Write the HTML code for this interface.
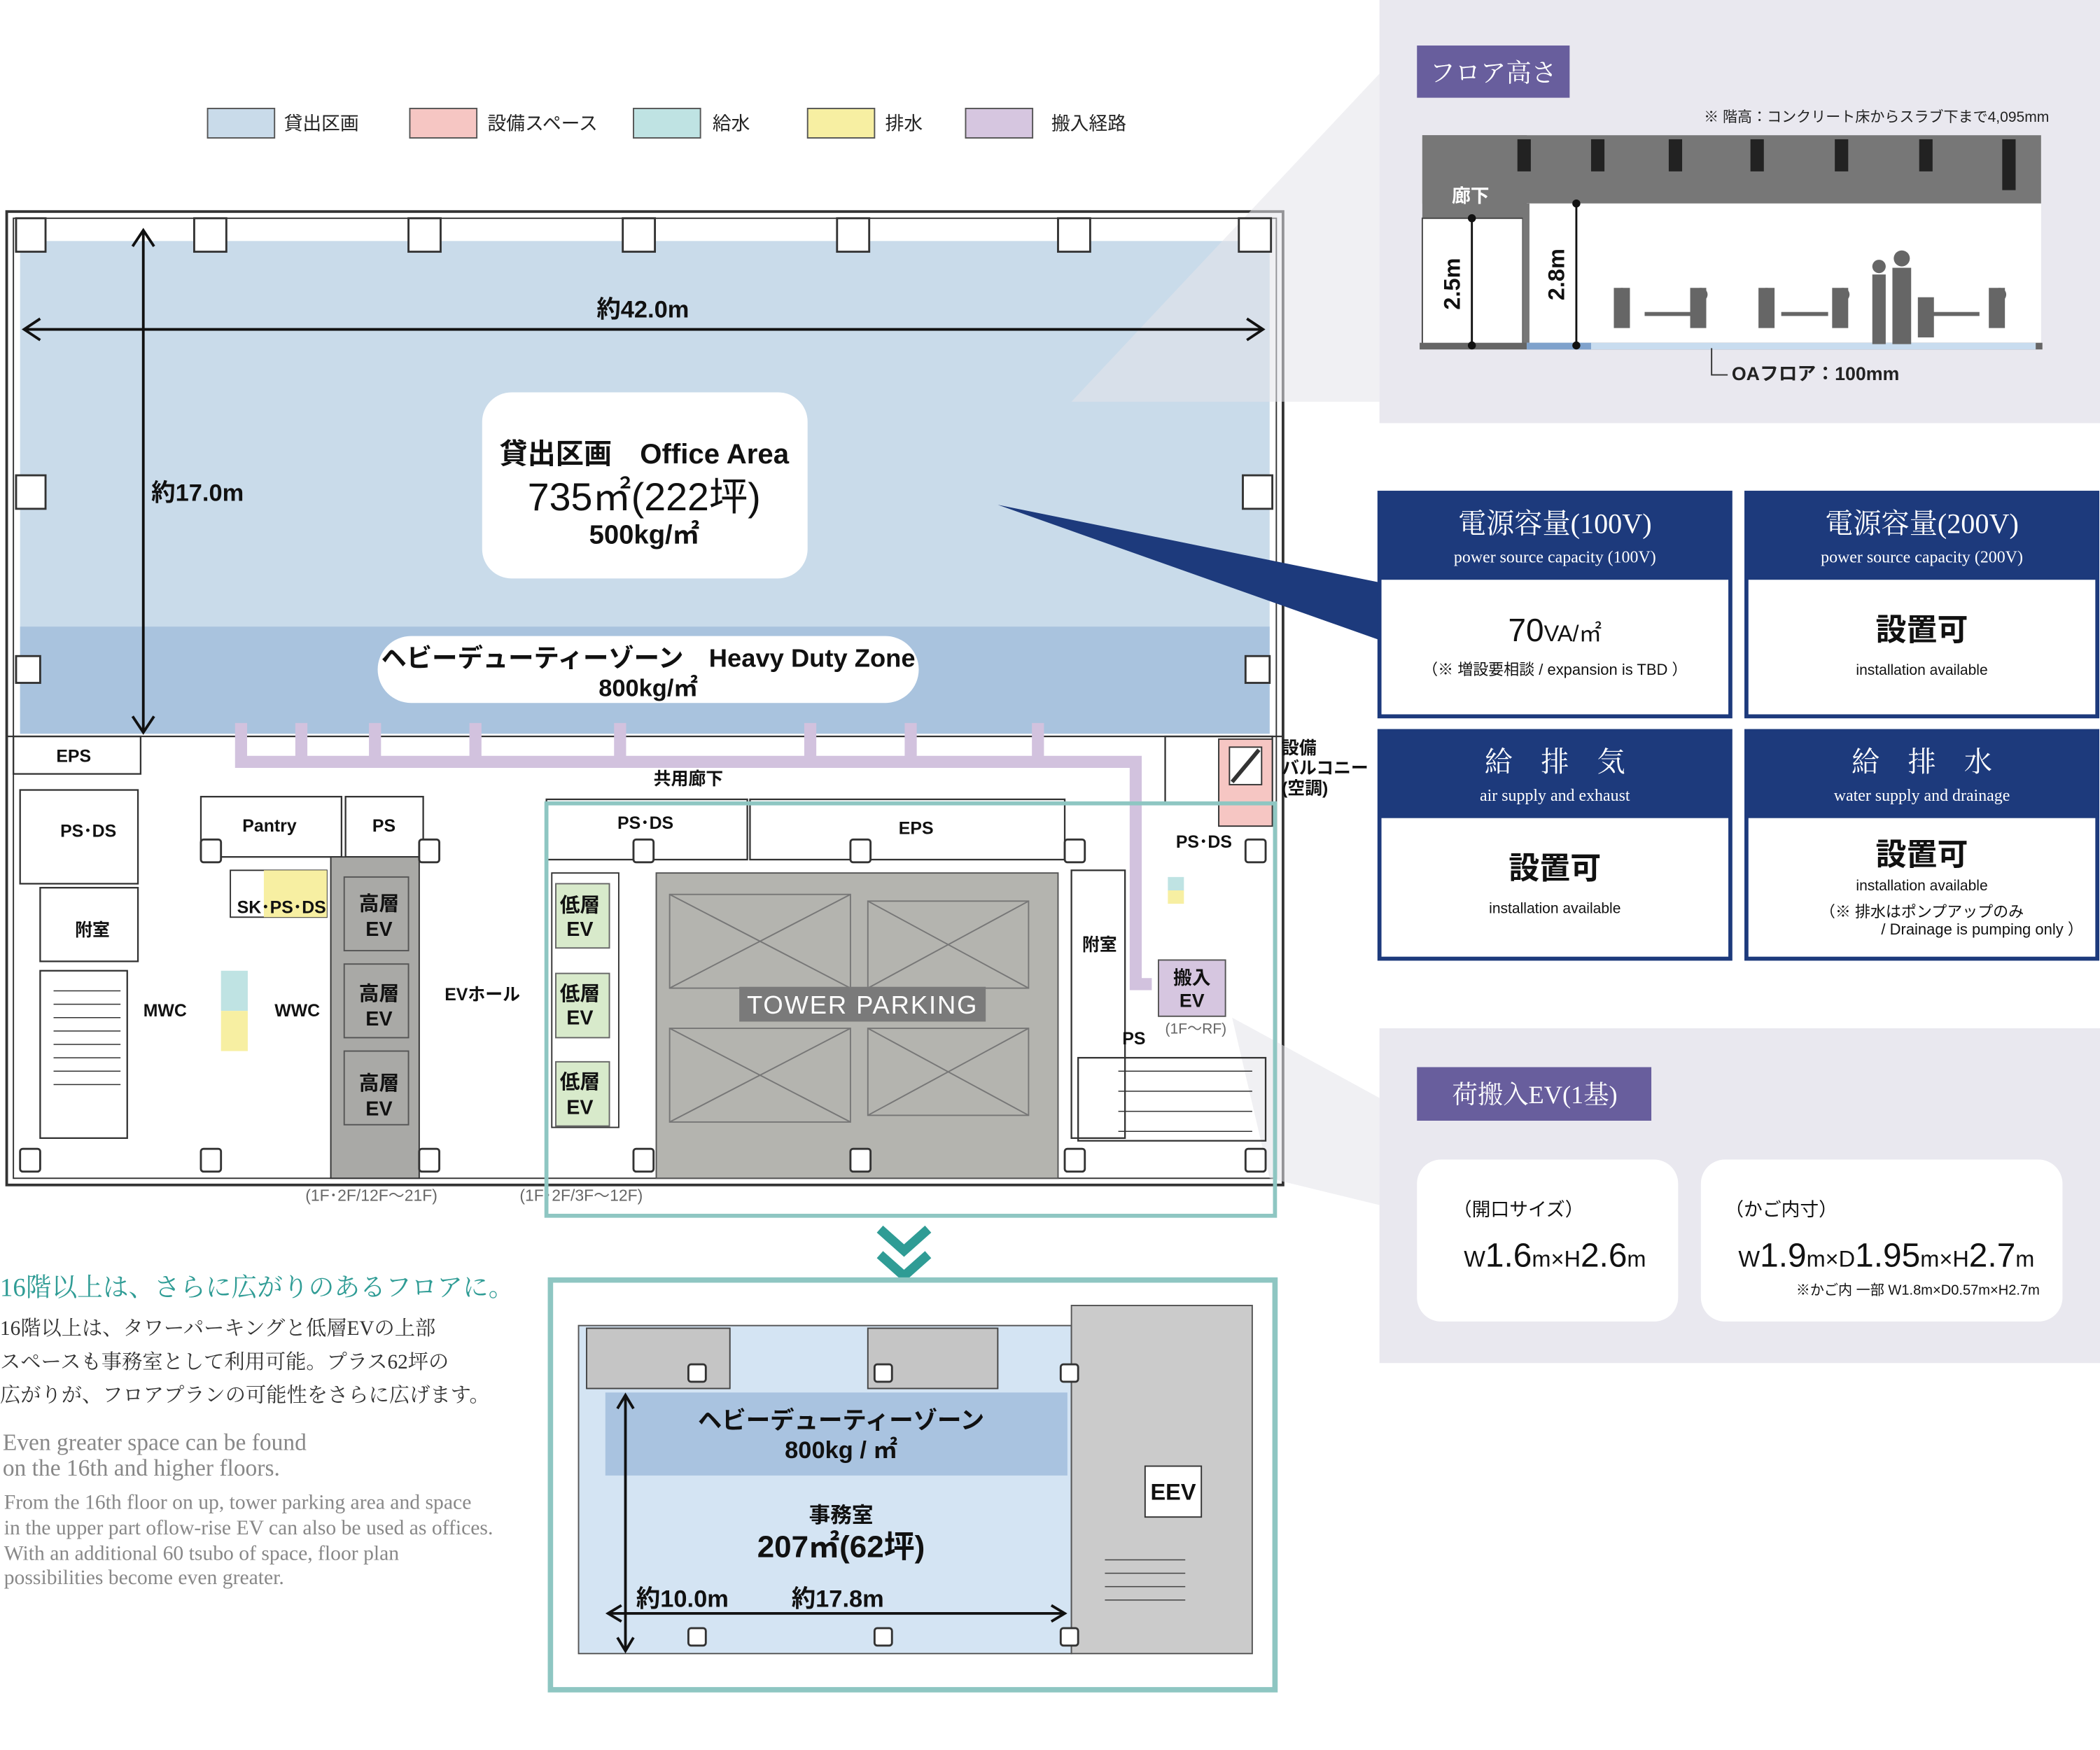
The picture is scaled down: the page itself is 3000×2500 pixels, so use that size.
<!DOCTYPE html>
<html><head><meta charset="utf-8"><style>
html,body{margin:0;padding:0;background:#fff;}
svg{display:block;}
text{font-family:"Liberation Sans","Noto Sans CJK JP",sans-serif;}
.s{font-family:"Liberation Serif","Noto Serif CJK SC",serif;}
</style></head><body>
<svg width="3000" height="2500" viewBox="0 0 1568 1307" preserveAspectRatio="none" xmlns="http://www.w3.org/2000/svg">
<rect width="1568" height="1307" fill="#fff"/>
<rect x="1030" y="0" width="538" height="316" fill="#e9e8ef"/>
<rect x="1030" y="768" width="538" height="250" fill="#e9e8ef"/>
<g font-size="14" fill="#222">
<rect x="155" y="81" width="50" height="22" fill="#c9dbea" stroke="#555"/><text x="212" y="97">貸出区画</text>
<rect x="306" y="81" width="50" height="22" fill="#f6c6c3" stroke="#555"/><text x="364" y="97">設備スペース</text>
<rect x="473" y="81" width="50" height="22" fill="#bfe3e3" stroke="#555"/><text x="532" y="97">給水</text>
<rect x="603" y="81" width="50" height="22" fill="#f7efa2" stroke="#555"/><text x="661" y="97">排水</text>
<rect x="721" y="81" width="50" height="22" fill="#d6c6e0" stroke="#555"/><text x="785" y="97">搬入経路</text>
</g>
<rect x="5" y="158" width="953" height="727" fill="#fff" stroke="#333" stroke-width="2"/>
<rect x="10" y="163" width="943" height="717" fill="none" stroke="#333" stroke-width="1"/>
<rect x="15" y="180" width="933" height="368" fill="#c9dbea"/>
<rect x="15" y="468" width="933" height="80" fill="#a9c3de"/>
<polygon points="1030,55 1030,300 800,300" fill="#e4e3ea" opacity="0.55"/>
<polygon points="1030,820 1030,900 948,880 920,760" fill="#e4e3ea" opacity="0.55"/>
<g fill="#fff" stroke="#333" stroke-width="1.5">
<rect x="12" y="163" width="22" height="25"/><rect x="145" y="163" width="24" height="25"/><rect x="305" y="163" width="24" height="25"/><rect x="465" y="163" width="24" height="25"/><rect x="625" y="163" width="24" height="25"/><rect x="790" y="163" width="24" height="25"/><rect x="925" y="163" width="24" height="25"/>
<rect x="12" y="355" width="22" height="25"/><rect x="928" y="355" width="22" height="25"/>
<rect x="12" y="490" width="18" height="20"/><rect x="930" y="490" width="18" height="20"/>
</g>
<g stroke="#111" stroke-width="2" fill="none">
<line x1="18" y1="246" x2="943" y2="246"/><polyline points="30,238 18,246 30,254"/><polyline points="931,238 943,246 931,254"/>
<line x1="107" y1="172" x2="107" y2="547"/><polyline points="99,184 107,172 115,184"/><polyline points="99,535 107,547 115,535"/>
</g>
<text x="480" y="237" font-size="18" font-weight="bold" text-anchor="middle" fill="#111">約42.0m</text>
<text x="113" y="374" font-size="18" font-weight="bold" fill="#111">約17.0m</text>
<rect x="360" y="293" width="243" height="139" rx="22" fill="#fff"/>
<text x="481" y="346" font-size="21" font-weight="bold" text-anchor="middle" fill="#111">貸出区画　Office Area</text>
<text x="481" y="381" font-size="29" text-anchor="middle" fill="#111">735㎡(222坪)</text>
<text x="481" y="406" font-size="20" font-weight="bold" text-anchor="middle" fill="#111">500kg/㎡</text>
<rect x="282" y="475" width="404" height="50" rx="25" fill="#fff"/>
<text x="484" y="498" font-size="19" font-weight="bold" text-anchor="middle" fill="#111">ヘビーデューティーゾーン　Heavy Duty Zone</text>
<text x="484" y="520" font-size="18" font-weight="bold" text-anchor="middle" fill="#111">800kg/㎡</text>
<polygon points="745,377 1030,435 1030,478" fill="#1d3a7c"/>
<g fill="none" stroke="#333" stroke-width="1.2">
<line x1="5" y1="550" x2="958" y2="550"/>
<rect x="10" y="550" width="95" height="28"/>
<rect x="15" y="590" width="88" height="70"/>
<rect x="30" y="663" width="73" height="55"/>
<rect x="30" y="725" width="65" height="125"/>
<rect x="150" y="595" width="105" height="45"/>
<rect x="258" y="595" width="58" height="45"/>
<rect x="408" y="597" width="150" height="45"/>
<rect x="560" y="597" width="235" height="45"/>
<rect x="870" y="550" width="80" height="50"/>
<rect x="800" y="650" width="40" height="200"/>
<rect x="805" y="790" width="140" height="62"/>
</g>
<g stroke="#333" stroke-width="0.8">
<line x1="40" y1="740" x2="90" y2="740"/><line x1="40" y1="750" x2="90" y2="750"/><line x1="40" y1="760" x2="90" y2="760"/><line x1="40" y1="770" x2="90" y2="770"/><line x1="40" y1="780" x2="90" y2="780"/><line x1="40" y1="790" x2="90" y2="790"/><line x1="40" y1="800" x2="90" y2="800"/><line x1="40" y1="810" x2="90" y2="810"/>
<line x1="835" y1="800" x2="935" y2="800"/><line x1="835" y1="815" x2="935" y2="815"/><line x1="835" y1="830" x2="935" y2="830"/><line x1="835" y1="845" x2="935" y2="845"/>
</g>
<g fill="none" stroke="#d2c2de" stroke-width="9">
<polyline points="180,540 180,569 848,569 848,735 860,735"/>
<line x1="225" y1="540" x2="225" y2="569"/><line x1="280" y1="540" x2="280" y2="569"/><line x1="355" y1="540" x2="355" y2="569"/><line x1="463" y1="540" x2="463" y2="569"/><line x1="605" y1="540" x2="605" y2="569"/><line x1="680" y1="540" x2="680" y2="569"/><line x1="775" y1="540" x2="775" y2="569"/>
</g>
<rect x="910" y="552" width="40" height="65" fill="#f6c6c3" stroke="#333"/>
<rect x="918" y="558" width="24" height="28" fill="#fff" stroke="#333"/>
<line x1="920" y1="584" x2="940" y2="560" stroke="#333" stroke-width="3"/>
<rect x="172" y="650" width="72" height="35" fill="#fff" stroke="#333"/>
<rect x="197" y="650" width="47" height="35" fill="#f7efa2"/>
<rect x="165" y="725" width="20" height="30" fill="#bfe3e3"/><rect x="165" y="755" width="20" height="30" fill="#f7efa2"/>
<rect x="872" y="655" width="12" height="10" fill="#bfe3e3"/><rect x="872" y="665" width="12" height="10" fill="#f7efa2"/>
<rect x="247" y="640" width="66" height="240" fill="#a9a9a6" stroke="#333"/>
<g fill="#a9a9a6" stroke="#555"><rect x="257" y="655" width="48" height="55"/><rect x="257" y="720" width="48" height="55"/><rect x="257" y="785" width="48" height="55"/></g>
<g font-size="15" font-weight="bold" text-anchor="middle" fill="#111">
<text x="283" y="680">高層</text><text x="283" y="699">EV</text>
<text x="283" y="747">高層</text><text x="283" y="766">EV</text>
<text x="283" y="814">高層</text><text x="283" y="833">EV</text>
</g>
<rect x="412" y="652" width="50" height="190" fill="#fff" stroke="#333"/>
<g fill="#d8eacb" stroke="#666"><rect x="415" y="660" width="40" height="48"/><rect x="415" y="727" width="40" height="48"/><rect x="415" y="793" width="40" height="48"/></g>
<g font-size="15" font-weight="bold" text-anchor="middle" fill="#111">
<text x="433" y="681">低層</text><text x="433" y="699">EV</text>
<text x="433" y="747">低層</text><text x="433" y="765">EV</text>
<text x="433" y="813">低層</text><text x="433" y="832">EV</text>
</g>
<rect x="490" y="652" width="300" height="228" fill="#b4b4af" stroke="#555"/>
<g fill="none" stroke="#777">
<rect x="500" y="668" width="135" height="70"/><rect x="648" y="673" width="120" height="65"/>
<rect x="500" y="768" width="135" height="70"/><rect x="648" y="768" width="120" height="65"/>
<line x1="500" y1="668" x2="635" y2="738"/><line x1="635" y1="668" x2="500" y2="738"/>
<line x1="648" y1="673" x2="768" y2="738"/><line x1="768" y1="673" x2="648" y2="738"/>
<line x1="500" y1="768" x2="635" y2="838"/><line x1="635" y1="768" x2="500" y2="838"/>
<line x1="648" y1="768" x2="768" y2="833"/><line x1="768" y1="768" x2="648" y2="833"/>
</g>
<rect x="552" y="737" width="184" height="26" fill="#7a7a7a"/>
<text x="644" y="757" font-size="19" fill="#fff" text-anchor="middle" letter-spacing="1">TOWER PARKING</text>
<rect x="865" y="717" width="50" height="42" fill="#d6c6e0" stroke="#555"/>
<text x="890" y="735" font-size="14" font-weight="bold" text-anchor="middle" fill="#111">搬入</text>
<text x="890" y="752" font-size="14" font-weight="bold" text-anchor="middle" fill="#111">EV</text>
<text x="870" y="772" font-size="11" fill="#666">(1F〜RF)</text>
<g fill="#fff" stroke="#333" stroke-width="1.5">
<rect x="150" y="627" width="15" height="17" rx="2"/><rect x="313" y="627" width="15" height="17" rx="2"/><rect x="473" y="627" width="15" height="17" rx="2"/><rect x="635" y="627" width="15" height="17" rx="2"/><rect x="795" y="627" width="15" height="17" rx="2"/><rect x="930" y="627" width="15" height="17" rx="2"/>
<rect x="15" y="858" width="15" height="17" rx="2"/><rect x="150" y="858" width="15" height="17" rx="2"/><rect x="313" y="858" width="15" height="17" rx="2"/><rect x="473" y="858" width="15" height="17" rx="2"/><rect x="635" y="858" width="15" height="17" rx="2"/><rect x="795" y="858" width="15" height="17" rx="2"/><rect x="930" y="858" width="15" height="17" rx="2"/>
</g>
<g font-size="13" font-weight="bold" fill="#111">
<text x="42" y="569">EPS</text><text x="45" y="625">PS･DS</text><text x="56" y="699">附室</text>
<text x="181" y="621">Pantry</text><text x="278" y="621">PS</text><text x="177" y="682">SK･PS･DS</text>
<text x="107" y="759">MWC</text><text x="205" y="759">WWC</text><text x="332" y="747">EVホール</text>
<text x="488" y="586">共用廊下</text><text x="461" y="619">PS･DS</text><text x="671" y="623">EPS</text>
<text x="878" y="633">PS･DS</text><text x="808" y="710">附室</text><text x="838" y="780">PS</text>
<text x="957" y="563">設備</text><text x="957" y="578">バルコニー</text><text x="957" y="593">(空調)</text>
</g>
<text x="228" y="897" font-size="12" fill="#666">(1F･2F/12F〜21F)</text>
<text x="388" y="897" font-size="12" fill="#666">(1F･2F/3F〜12F)</text>
<rect x="408" y="600" width="544" height="308" fill="none" stroke="#8ec6c2" stroke-width="3"/>
<g fill="none" stroke="#2f9c95" stroke-width="7"><polyline points="657,918 675,934 693,918"/><polyline points="657,937 675,953 693,937"/></g>
<rect x="411" y="956" width="541" height="306" fill="none" stroke="#8ec6c2" stroke-width="4"/>
<rect x="432" y="990" width="368" height="245" fill="#d4e4f3" stroke="#555"/>
<rect x="452" y="1040" width="345" height="62" fill="#a9c3e0"/>
<rect x="800" y="975" width="135" height="260" fill="#cbcbcb" stroke="#555"/>
<g fill="#c5c5c5" stroke="#444"><rect x="438" y="992" width="107" height="45"/><rect x="648" y="992" width="97" height="45"/></g>
<rect x="855" y="1095" width="42" height="38" fill="#fff" stroke="#333"/>
<text x="876" y="1120" font-size="17" font-weight="bold" text-anchor="middle" fill="#111">EEV</text>
<g stroke="#444" stroke-width="0.8"><line x1="825" y1="1165" x2="885" y2="1165"/><line x1="825" y1="1175" x2="885" y2="1175"/><line x1="825" y1="1185" x2="885" y2="1185"/><line x1="825" y1="1195" x2="885" y2="1195"/></g>
<g fill="#fff" stroke="#333" stroke-width="1.5"><rect x="514" y="1019" width="13" height="13" rx="2"/><rect x="653" y="1019" width="13" height="13" rx="2"/><rect x="792" y="1019" width="13" height="13" rx="2"/><rect x="514" y="1216" width="13" height="13" rx="2"/><rect x="653" y="1216" width="13" height="13" rx="2"/><rect x="792" y="1216" width="13" height="13" rx="2"/></g>
<g stroke="#111" stroke-width="2" fill="none">
<line x1="467" y1="1042" x2="467" y2="1233"/><polyline points="461,1052 467,1042 473,1052"/><polyline points="461,1223 467,1233 473,1223"/>
<line x1="454" y1="1205" x2="795" y2="1205"/><polyline points="464,1199 454,1205 464,1211"/><polyline points="785,1199 795,1205 785,1211"/>
</g>
<text x="628" y="1067" font-size="18" font-weight="bold" text-anchor="middle" fill="#111">ヘビーデューティーゾーン</text>
<text x="628" y="1089" font-size="18" font-weight="bold" text-anchor="middle" fill="#111">800kg / ㎡</text>
<text x="628" y="1137" font-size="16" font-weight="bold" text-anchor="middle" fill="#111">事務室</text>
<text x="628" y="1163" font-size="23" font-weight="bold" text-anchor="middle" fill="#111">207㎡(62坪)</text>
<text x="475" y="1200" font-size="18" font-weight="bold" fill="#111">約10.0m</text>
<text x="591" y="1200" font-size="18" font-weight="bold" fill="#111">約17.8m</text>
<text class="s" x="0" y="968" font-size="19.2" fill="#2f9c95">16階以上は、さらに広がりのあるフロアに。</text>
<g fill="#333">
<text class="s" x="0" y="997" font-size="15.3">16階以上は、タワーパーキングと低層EVの上部</text>
<text class="s" x="0" y="1022" font-size="15.3">スペースも事務室として利用可能。プラス62坪の</text>
<text class="s" x="0" y="1047" font-size="15.3">広がりが、フロアプランの可能性をさらに広げます。</text>
</g>
<g fill="#888">
<text class="s" x="2" y="1083" font-size="17.5">Even greater space can be found</text>
<text class="s" x="2" y="1102" font-size="17.5">on the 16th and higher floors.</text>
<text class="s" x="3" y="1127" font-size="15.5">From the 16th floor on up, tower parking area and space</text>
<text class="s" x="3" y="1146" font-size="15.5">in the upper part oflow-rise EV can also be used as offices.</text>
<text class="s" x="3" y="1165" font-size="15.5">With an additional 60 tsubo of space, floor plan</text>
<text class="s" x="3" y="1183" font-size="15.5">possibilities become even greater.</text>
</g>
<rect x="1058" y="34" width="114" height="39" fill="#685e9d"/>
<text class="s" x="1115" y="61" font-size="19" fill="#fff" text-anchor="middle">フロア高さ</text>
<text x="1530" y="91" font-size="11" text-anchor="end" fill="#222">※ 階高：コンクリート床からスラブ下まで4,095mm</text>
<rect x="1062" y="101" width="462" height="51" fill="#777"/>
<rect x="1062" y="101" width="78" height="62" fill="#777"/>
<rect x="1140" y="152" width="384" height="106" fill="#fff"/>
<rect x="1062" y="163" width="75" height="95" fill="#fff" stroke="#444"/>
<rect x="1137" y="152" width="5" height="106" fill="#777"/>
<rect x="1060" y="256" width="465" height="5" fill="#666"/>
<rect x="1140" y="256" width="380" height="5" fill="#c8dcef"/>
<rect x="1140" y="256" width="48" height="5" fill="#7fa2cc"/>
<g fill="#222"><rect x="1133" y="104" width="10" height="24"/><rect x="1188" y="104" width="10" height="24"/><rect x="1246" y="104" width="10" height="24"/><rect x="1307" y="104" width="10" height="24"/><rect x="1370" y="104" width="10" height="24"/><rect x="1433" y="104" width="10" height="24"/><rect x="1495" y="104" width="10" height="38"/></g>
<text x="1098" y="151" font-size="14" font-weight="bold" fill="#fff" text-anchor="middle">廊下</text>
<g stroke="#111" stroke-width="1.5"><line x1="1099" y1="163" x2="1099" y2="258"/><line x1="1177" y1="152" x2="1177" y2="258"/></g>
<g fill="#111"><circle cx="1099" cy="163" r="3"/><circle cx="1099" cy="258" r="3"/><circle cx="1177" cy="152" r="3"/><circle cx="1177" cy="258" r="3"/></g>
<text transform="translate(1090,212) rotate(-90)" font-size="17" font-weight="bold" text-anchor="middle" fill="#111">2.5m</text>
<text transform="translate(1168,205) rotate(-90)" font-size="17" font-weight="bold" text-anchor="middle" fill="#111">2.8m</text>
<g fill="#666">
<rect x="1205" y="215" width="12" height="30"/><circle cx="1211" cy="220" r="5"/>
<rect x="1262" y="215" width="12" height="30"/><circle cx="1270" cy="220" r="5"/>
<rect x="1313" y="215" width="12" height="30"/><circle cx="1319" cy="220" r="5"/>
<rect x="1368" y="215" width="12" height="30"/><circle cx="1376" cy="220" r="5"/>
<rect x="1398" y="205" width="10" height="52"/><circle cx="1403" cy="199" r="5"/>
<rect x="1413" y="200" width="14" height="57"/><circle cx="1420" cy="193" r="6"/>
<rect x="1432" y="222" width="12" height="30"/>
<rect x="1485" y="215" width="12" height="30"/><circle cx="1493" cy="220" r="5"/>
<rect x="1228" y="233" width="35" height="3"/><rect x="1330" y="233" width="35" height="3"/><rect x="1440" y="233" width="38" height="3"/>
</g>
<polyline points="1278,260 1278,280 1290,280" fill="none" stroke="#333"/>
<text x="1293" y="284" font-size="14" font-weight="bold" fill="#222">OAフロア：100mm</text>
<g>
<rect x="1030" y="368" width="262" height="167" fill="#fff" stroke="#1d3a7c" stroke-width="3"/><rect x="1030" y="368" width="262" height="65" fill="#1d3a7c"/>
<rect x="1304" y="368" width="262" height="167" fill="#fff" stroke="#1d3a7c" stroke-width="3"/><rect x="1304" y="368" width="262" height="65" fill="#1d3a7c"/>
<rect x="1030" y="546" width="262" height="170" fill="#fff" stroke="#1d3a7c" stroke-width="3"/><rect x="1030" y="546" width="262" height="65" fill="#1d3a7c"/>
<rect x="1304" y="546" width="262" height="170" fill="#fff" stroke="#1d3a7c" stroke-width="3"/><rect x="1304" y="546" width="262" height="65" fill="#1d3a7c"/>
</g>
<g fill="#fff" text-anchor="middle">
<text class="s" x="1161" y="398" font-size="21">電源容量(100V)</text><text class="s" x="1161" y="420" font-size="12.5">power source capacity (100V)</text>
<text class="s" x="1435" y="398" font-size="21">電源容量(200V)</text><text class="s" x="1435" y="420" font-size="12.5">power source capacity (200V)</text>
<text class="s" x="1161" y="576" font-size="21">給　排　気</text><text class="s" x="1161" y="598" font-size="12.5">air supply and exhaust</text>
<text class="s" x="1435" y="576" font-size="21">給　排　水</text><text class="s" x="1435" y="598" font-size="12.5">water supply and drainage</text>
</g>
<g fill="#111" text-anchor="middle">
<text x="1161" y="479" font-size="24">70<tspan font-size="17">VA/㎡</tspan></text>
<text x="1161" y="504" font-size="11.5">（※ 増設要相談 / expansion is TBD ）</text>
<text x="1435" y="478" font-size="23" font-weight="bold">設置可</text>
<text x="1435" y="504" font-size="11">installation available</text>
<text x="1161" y="656" font-size="23" font-weight="bold">設置可</text>
<text x="1161" y="682" font-size="11">installation available</text>
<text x="1435" y="646" font-size="23" font-weight="bold">設置可</text>
<text x="1435" y="665" font-size="11">installation available</text>
<text x="1435" y="685" font-size="11.5">（※ 排水はポンプアップのみ</text>
<text x="1480" y="698" font-size="11.5">/ Drainage is pumping only ）</text>
</g>
<rect x="1058" y="797" width="175" height="40" fill="#685e9d"/>
<text class="s" x="1146" y="824" font-size="19" fill="#fff" text-anchor="middle">荷搬入EV(1基)</text>
<rect x="1058" y="866" width="195" height="121" rx="18" fill="#fff"/>
<rect x="1270" y="866" width="270" height="121" rx="18" fill="#fff"/>
<text x="1085" y="908" font-size="14" fill="#111">（開口サイズ）</text>
<text x="1093" y="946" font-size="17" fill="#111">W<tspan font-size="25">1.6</tspan>m×H<tspan font-size="25">2.6</tspan>m</text>
<text x="1288" y="908" font-size="14" fill="#111">（かご内寸）</text>
<text x="1298" y="946" font-size="17" fill="#111">W<tspan font-size="25">1.9</tspan>m×D<tspan font-size="25">1.95</tspan>m×H<tspan font-size="25">2.7</tspan>m</text>
<text x="1523" y="967" font-size="10.5" fill="#111" text-anchor="end">※かご内 一部 W1.8m×D0.57m×H2.7m</text>
</svg>
</body></html>
